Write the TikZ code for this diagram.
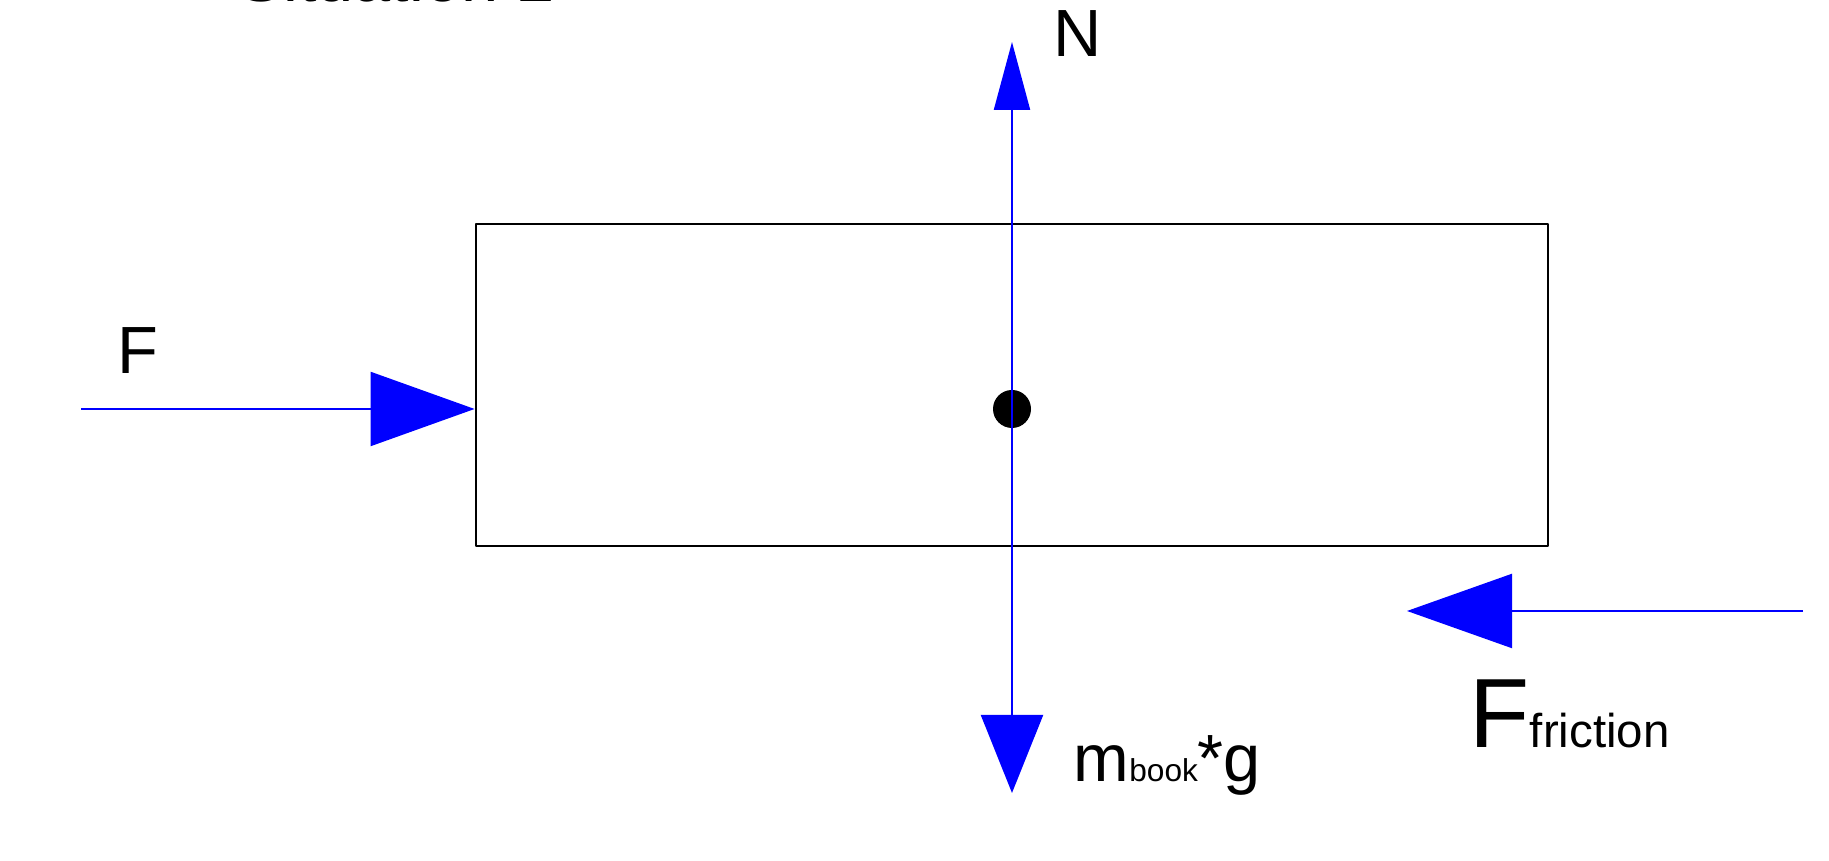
\documentclass[tikz,border=0pt]{standalone}
\usepackage{fontspec}
\setmainfont{Liberation Sans}
\usetikzlibrary{arrows.meta}
\tikzset{f/.style={blue,line width=0.6pt}}
\tikzset{t/.style={font=\fontsize{19}{19}\selectfont,inner sep=0pt,anchor=base west}}
\newcommand{\lbig}{\fontsize{19}{19}\selectfont}
\begin{document}
\begin{tikzpicture}[line join=round]
  \useasboundingbox (0,0) rectangle (18.29,8.61);
  \node[draw,line width=0.8pt,minimum width=10.72cm,minimum height=3.22cm,inner sep=0pt] (book) at (10.12,4.76) {};
  \node[circle,fill,minimum size=0.38cm,inner sep=0pt] (c) at (10.12,4.52) {};
  \coordinate (Ntip) at (10.12,8.19);
  \coordinate (Wtip) at (10.12,0.68);
  \coordinate (Fstart) at (0.81,4.52);
  \coordinate (Rstart) at (18.03,2.50);
  \coordinate (Rtip) at (14.07,2.50);
  \draw[f,-{Triangle[length=0.68cm,width=0.36cm]}] (c.center) -- (Ntip);
  \draw[f,-{Triangle[length=0.78cm,width=0.62cm]}] (c.center) -- (Wtip);
  \draw[f,-{Triangle[length=1.04cm,width=0.74cm]}] (Fstart) -- (book.west |- c);
  \draw[f,-{Triangle[length=1.05cm,width=0.74cm]}] (Rstart) -- (Rtip);
  \node[t] (title) at (2.38,8.59) {Situation 2};
  \node[t] (Nl) at (10.53,8.04) {N};
  \node[t] (Fl) at (1.17,4.87) {F};
  \node[t] (Wl) at (10.73,0.79) {m\fontsize{9}{9}\selectfont book\lbig *g};
  \node[t] (Rl) at (14.69,1.13) {\fontsize{28}{28}\selectfont F\fontsize{13.5}{13.5}\selectfont friction};
\end{tikzpicture}
\end{document}
